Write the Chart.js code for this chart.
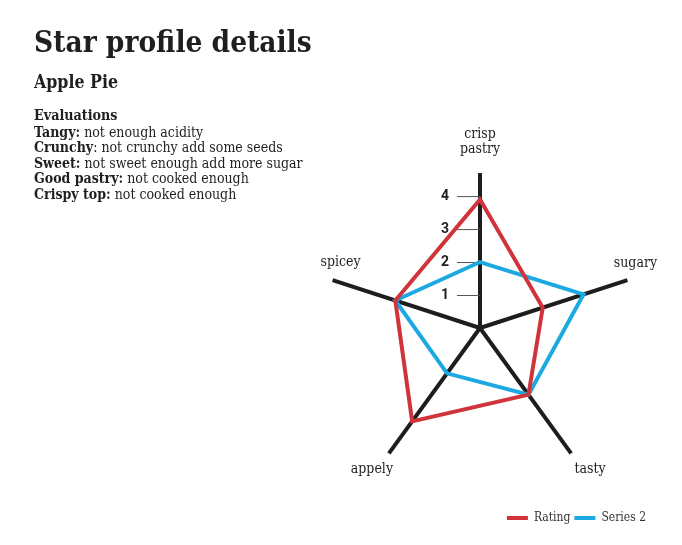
<!DOCTYPE html>
<html>
<head>
<meta charset="utf-8">
<script src="https://cdn.jsdelivr.net/npm/chart.js@4.4.1/dist/chart.umd.min.js"></script>
<style>
  html, body { margin: 0; padding: 0; background: #fff; }
  #wrap { position: relative; width: 682px; height: 545px; overflow: hidden; }
  #starChart { position: absolute; left: 0; top: 0; }
  .txt { position: absolute; left: 34px; color: #1f1f1f; white-space: nowrap;
         font-family: "DejaVu Serif Condensed", "DejaVu Serif", serif; font-stretch: condensed; }
  .title { top: 27px; font-size: 29.5px; line-height: 30px; font-weight: bold; }
  .sub { top: 72px; font-size: 17.6px; line-height: 20px; font-weight: bold; }
  .head { top: 107px; font-size: 14.2px; line-height: 16px; font-weight: bold; }
  .notes { top: 125px; font-size: 14px; line-height: 15.4px; }
</style>
</head>
<body>
<div id="wrap">
  <canvas id="starChart" width="682" height="545"></canvas>
  <div class="txt title">Star profile details</div>
  <div class="txt sub">Apple Pie</div>
  <div class="txt head">Evaluations</div>
  <div class="txt notes">
    <div><b>Tangy:</b> not enough acidity</div>
    <div><b>Crunchy</b>: not crunchy add some seeds</div>
    <div><b>Sweet:</b> not sweet enough add more sugar</div>
    <div><b>Good pastry:</b> not cooked enough</div>
    <div><b>Crispy top:</b> not cooked enough</div>
  </div>
</div>
<script>
// chart data
const categories = [['crisp', 'pastry'], 'sugary', 'tasty', 'appely', 'spicey'];
const ratingValues = [3.9, 2, 2.5, 3.5, 2.7];
const series2Values = [2, 3.3, 2.5, 1.7, 2.7];
const tickLabels = [1, 2, 3, 4];

const RED = '#d0343a';
const BLUE = '#1ca9e1';
const serif = '"DejaVu Serif Condensed", "DejaVu Serif", serif';

// where each axis name sits, relative to the end of its axis line
const labelOffsets = [[0, -31], [8, -17], [19, 16], [-17, 16], [8, -18]];

// tick marks + numbers on the first axis, and the axis names
const radarExtras = {
    id: 'radarExtras',
    beforeDatasetsDraw(chart) {
        const r = chart.scales.r;
        const ctx = chart.ctx;
        ctx.save();

        ctx.strokeStyle = '#555';
        ctx.lineWidth = 1;
        ctx.fillStyle = '#1f1f1f';
        ctx.font = 'bold 14px Roboto';
        ctx.textAlign = 'center';
        ctx.textBaseline = 'middle';
        tickLabels.forEach(v => {
            const y = r.yCenter - r.getDistanceFromCenterForValue(v);
            ctx.beginPath();
            ctx.moveTo(r.xCenter - 23, y + 0.5);
            ctx.lineTo(r.xCenter, y + 0.5);
            ctx.stroke();
            ctx.fillText(String(v), r.xCenter - 35, y);
        });

        ctx.font = '14px ' + serif;
        chart.data.labels.forEach((label, i) => {
            const end = r.getPointPosition(i, r.drawingArea);
            const lines = Array.isArray(label) ? label : [label];
            const x = end.x + labelOffsets[i][0];
            const y = end.y + labelOffsets[i][1] - (lines.length - 1) * 7.5;
            lines.forEach((line, j) => ctx.fillText(line, x, y + j * 15));
        });
        ctx.restore();
    }
};

new Chart(document.getElementById('starChart'), {
    type: 'radar',
    data: {
        labels: categories,
        datasets: [
            { label: 'Rating', data: ratingValues, borderColor: RED, backgroundColor: RED },
            { label: 'Series 2', data: series2Values, borderColor: BLUE, backgroundColor: BLUE }
        ]
    },
    options: {
        responsive: false,
        animation: false,
        layout: { padding: { left: 310, right: 32, top: 149, bottom: 11 } },
        elements: {
            line: { borderWidth: 4, fill: false, tension: 0, borderJoinStyle: 'miter' },
            point: { radius: 0, hoverRadius: 0 }
        },
        plugins: {
            tooltip: { enabled: false },
            legend: {
                position: 'bottom',
                align: 'end',
                labels: {
                    boxWidth: 21,
                    boxHeight: 4,
                    padding: 4,
                    color: '#333',
                    font: { family: serif, size: 12 },
                    generateLabels: chart => Chart.defaults.plugins.legend.labels.generateLabels(chart)
                        .map(item => ({ ...item, lineWidth: 0 }))
                }
            }
        },
        scales: {
            r: {
                min: 0,
                max: 4.7,
                z: 1,
                grid: { display: false },
                angleLines: { color: '#1d1d1d', lineWidth: 4 },
                ticks: { display: false, stepSize: 1 },
                pointLabels: { display: false },
                afterFit: scale => { scale.drawingArea = 155; }
            }
        }
    },
    plugins: [radarExtras]
});
</script>
</body>
</html>
